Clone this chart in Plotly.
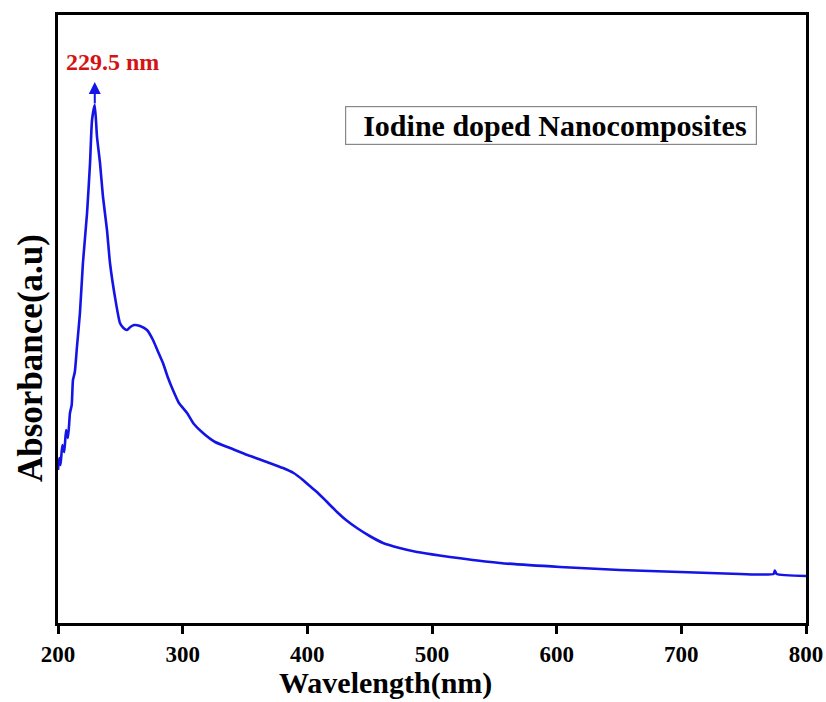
import plotly.graph_objects as go

wavelength = [200, 201, 202, 203.5, 205, 206.5, 208, 209.6, 211, 212, 213.5, 215.2,
              217.6, 220, 223.3, 225.7, 227.3, 229.5, 231.3, 233.7, 236.1, 239.3,
              241.7, 245.7, 249.7, 252.5, 255.3, 258, 261, 265.8, 271.4, 276.2,
              280, 284.2, 288, 292.2, 297, 303.5, 309, 316.3, 326, 338, 352, 367.6,
              380.5, 389, 396.5, 401, 407.7, 415, 423.8, 431, 439.8, 450, 460.7, 474,
              488, 500, 514.4, 554.5, 602.7, 650.8, 698.9, 747, 774, 775, 776.5, 800]
absorbance = [0.765, 0.825, 0.79, 0.89, 0.855, 0.965, 0.925, 1.05, 1.09, 1.215, 1.255, 1.38,
              1.55, 1.80, 2.05, 2.30, 2.515, 2.59, 2.43, 2.30, 2.13, 1.965,
              1.80, 1.63, 1.50, 1.475, 1.465, 1.48, 1.49, 1.485, 1.465, 1.415,
              1.36, 1.30, 1.23, 1.165, 1.10, 1.05, 0.995, 0.95, 0.905, 0.875, 0.84, 0.805,
              0.775, 0.75, 0.715, 0.69, 0.655, 0.61, 0.555, 0.515, 0.475, 0.435, 0.40, 0.375,
              0.355, 0.343, 0.33, 0.30, 0.28, 0.265, 0.255, 0.245, 0.245, 0.262, 0.245, 0.235]
x_ticks = [200, 300, 400, 500, 600, 700, 800]
peak_label = "229.5 nm"
peak_x = 229.5
peak_y = 2.59
legend_text = "Iodine doped Nanocomposites"

FONT = "Liberation Serif"
L, T, PW, PH = 58, 15, 748, 608


def px(xp):
    return (xp - L) / PW


def py(yp):
    return 1 - (yp - T) / PH


fig = go.Figure()
fig.add_trace(go.Scatter(x=wavelength, y=absorbance, mode="lines",
                         line=dict(color="#1414e6", width=2.6, shape="spline", smoothing=0.5),
                         showlegend=False, hoverinfo="skip"))

fig.update_layout(
    width=826, height=702,
    margin=dict(l=58, r=20, t=15, b=79),
    paper_bgcolor="white", plot_bgcolor="white",
    font=dict(family=FONT, color="black"),
)
fig.update_xaxes(range=[200, 800], tickvals=x_ticks, ticks="outside", ticklen=8,
                 tickwidth=2.5, tickcolor="black", showline=True, linecolor="black",
                 linewidth=3, mirror=True, showgrid=False, zeroline=False, automargin=False,
                 tickfont=dict(family=FONT, size=23, color="black", weight="bold"))
fig.update_yaxes(range=[0, 3.04], showticklabels=False, ticks="", showline=True,
                 linecolor="black", linewidth=3, mirror=True, showgrid=False,
                 zeroline=False, automargin=False)

# arrow at the peak
fig.add_annotation(x=peak_x, y=2.705, ax=peak_x, ay=peak_y, xref="x", yref="y",
                   axref="x", ayref="y", showarrow=True, arrowhead=2, arrowsize=1.2,
                   arrowwidth=2, arrowcolor="#1414e6", text="")
fig.add_annotation(x=px(112), y=py(62), xref="paper", yref="paper",
                   text="<b>" + peak_label + "</b>", showarrow=False,
                   font=dict(family=FONT, size=24, color="#d41414"),
                   xanchor="center", yanchor="middle")

# legend box
fig.add_annotation(x=px(550.5), y=py(126), xref="paper", yref="paper",
                   text="&nbsp;&nbsp;<b>" + legend_text + "</b>&nbsp;",
                   showarrow=False, font=dict(family=FONT, size=30, color="black"),
                   bordercolor="#888888", borderwidth=1.2, borderpad=2,
                   xanchor="center", yanchor="middle")

# axis titles
fig.add_annotation(x=px(385), y=py(702), xref="paper", yref="paper",
                   text="<b>Wavelength(nm)</b>", showarrow=False,
                   font=dict(family=FONT, size=30, color="black"),
                   xanchor="center", yanchor="bottom")
fig.add_annotation(x=px(30), y=py(358), xref="paper", yref="paper",
                   text="<b>Absorbance(a.u)</b>", showarrow=False,
                   font=dict(family=FONT, size=35, color="black"),
                   textangle=-90, xanchor="center", yanchor="middle")

fig.write_html("out.html", config={"displayModeBar": False},
               post_script="document.body.style.margin='0';")
